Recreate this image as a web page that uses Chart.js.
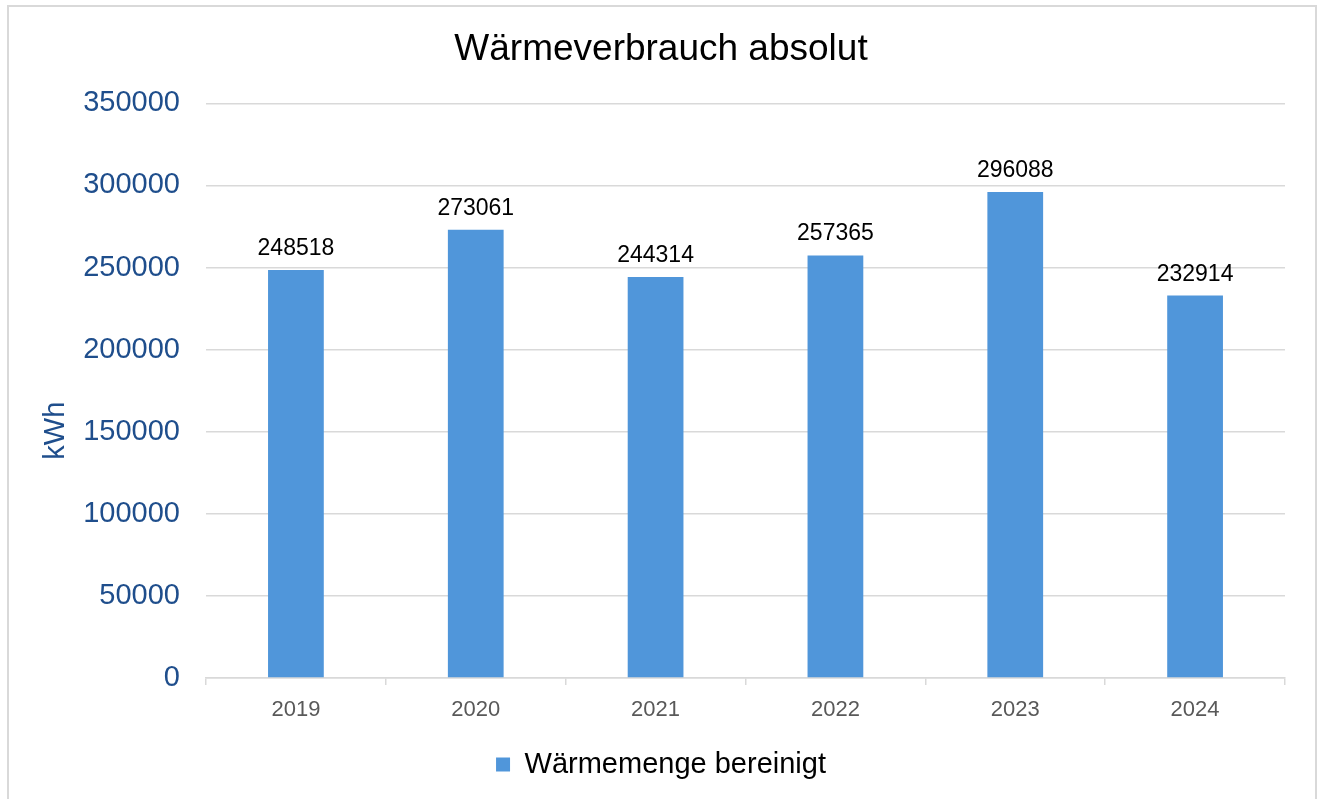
<!DOCTYPE html>
<html>
<head>
<meta charset="utf-8">
<script src="https://cdn.jsdelivr.net/npm/chart.js@4.4.1/dist/chart.umd.min.js"></script>
<style>
  html, body { margin: 0; padding: 0; background: #fff; }
  #wrap { position: relative; width: 1322px; height: 799px; overflow: hidden; }
  #frame { position: absolute; left: 7px; top: 5px; width: 1310px; height: 820px; border: 2px solid #d9d9d9; box-sizing: border-box; }
  canvas { position: absolute; left: 0; top: 0; }
</style>
</head>
<body>
<div id="wrap">
  <div id="frame"></div>
  <canvas id="c" width="1322" height="799"></canvas>
</div>
<script>
const categories = ["2019", "2020", "2021", "2022", "2023", "2024"];
const seriesName = "Wärmemenge bereinigt";
const values = [248518, 273061, 244314, 257365, 296088, 232914];
const yTicks = [0, 50000, 100000, 150000, 200000, 250000, 300000, 350000];
const titleText = "Wärmeverbrauch absolut";
const yTitle = "kWh";

const FONT = "'Liberation Sans', Arial, sans-serif";
const BLUE_TEXT = "#1F4E8C";
const BAR = "#5096DA";

const dataLabels = {
  id: 'dataLabels',
  afterDatasetsDraw(chart) {
    const ctx = chart.ctx;
    ctx.save();
    ctx.font = "23px " + FONT;
    ctx.fillStyle = "#000";
    ctx.textAlign = "center";
    ctx.textBaseline = "alphabetic";
    chart.data.datasets.forEach((ds, i) => {
      const meta = chart.getDatasetMeta(i);
      meta.data.forEach((bar, j) => {
        ctx.fillText(String(ds.data[j]), bar.x, bar.y - 15);
      });
    });
    ctx.restore();
  }
};

const yAxisTitle = {
  id: 'yAxisTitle',
  afterDraw(chart) {
    const ctx = chart.ctx;
    const ys = chart.scales.y;
    const ca = chart.chartArea;
    ctx.save();
    ctx.font = "29px " + FONT;
    ctx.fillStyle = BLUE_TEXT;
    ctx.textAlign = "center";
    ctx.textBaseline = "middle";
    ctx.translate(ys.left + 19, (ca.top + ca.bottom) / 2 + 40);
    ctx.rotate(-Math.PI / 2);
    ctx.fillText(yTitle, 0, 0);
    ctx.restore();
  }
};

new Chart(document.getElementById('c'), {
  type: 'bar',
  data: {
    labels: categories,
    datasets: [{
      label: seriesName,
      data: values,
      backgroundColor: BAR,
      borderWidth: 0,
      barPercentage: 0.31,
      categoryPercentage: 1.0
    }]
  },
  options: {
    responsive: false,
    devicePixelRatio: 1,
    animation: false,
    layout: { padding: { left: 37, right: 37, top: 0, bottom: 10 } },
    plugins: {
      title: {
        display: true,
        text: titleText,
        color: "#000",
        font: { family: FONT, size: 37, weight: 'normal', lineHeight: 1.2 },
        padding: { top: 28, bottom: 31 }
      },
      legend: {
        position: 'bottom',
        labels: {
          color: "#000",
          font: { family: FONT, size: 29 },
          boxWidth: 14,
          boxHeight: 14,
          padding: 10
        }
      },
      tooltip: { enabled: false }
    },
    scales: {
      x: {
        grid: {
          display: true,
          drawOnChartArea: false,
          drawTicks: true,
          tickLength: 7,
          color: "#d9d9d9",
          lineWidth: 1.5,
          offset: true
        },
        border: { display: true, color: "#d9d9d9", width: 1.5 },
        ticks: {
          color: "#595959",
          font: { family: FONT, size: 22 },
          padding: 12
        },
        afterFit(scale) { scale.height = 62; }
      },
      y: {
        min: 0,
        max: 350000,
        afterBuildTicks(scale) { scale.ticks = yTicks.map(v => ({ value: v })); },
        grid: {
          color: "#d9d9d9",
          lineWidth: 1.5,
          drawTicks: false
        },
        border: { display: false },
        ticks: {
          color: BLUE_TEXT,
          font: { family: FONT, size: 29 },
          padding: 26,
          callback: (v) => String(v)
        },
        title: { display: false },
        afterFit(scale) { scale.width = 169; }
      }
    }
  },
  plugins: [dataLabels, yAxisTitle]
});
</script>
</body>
</html>
